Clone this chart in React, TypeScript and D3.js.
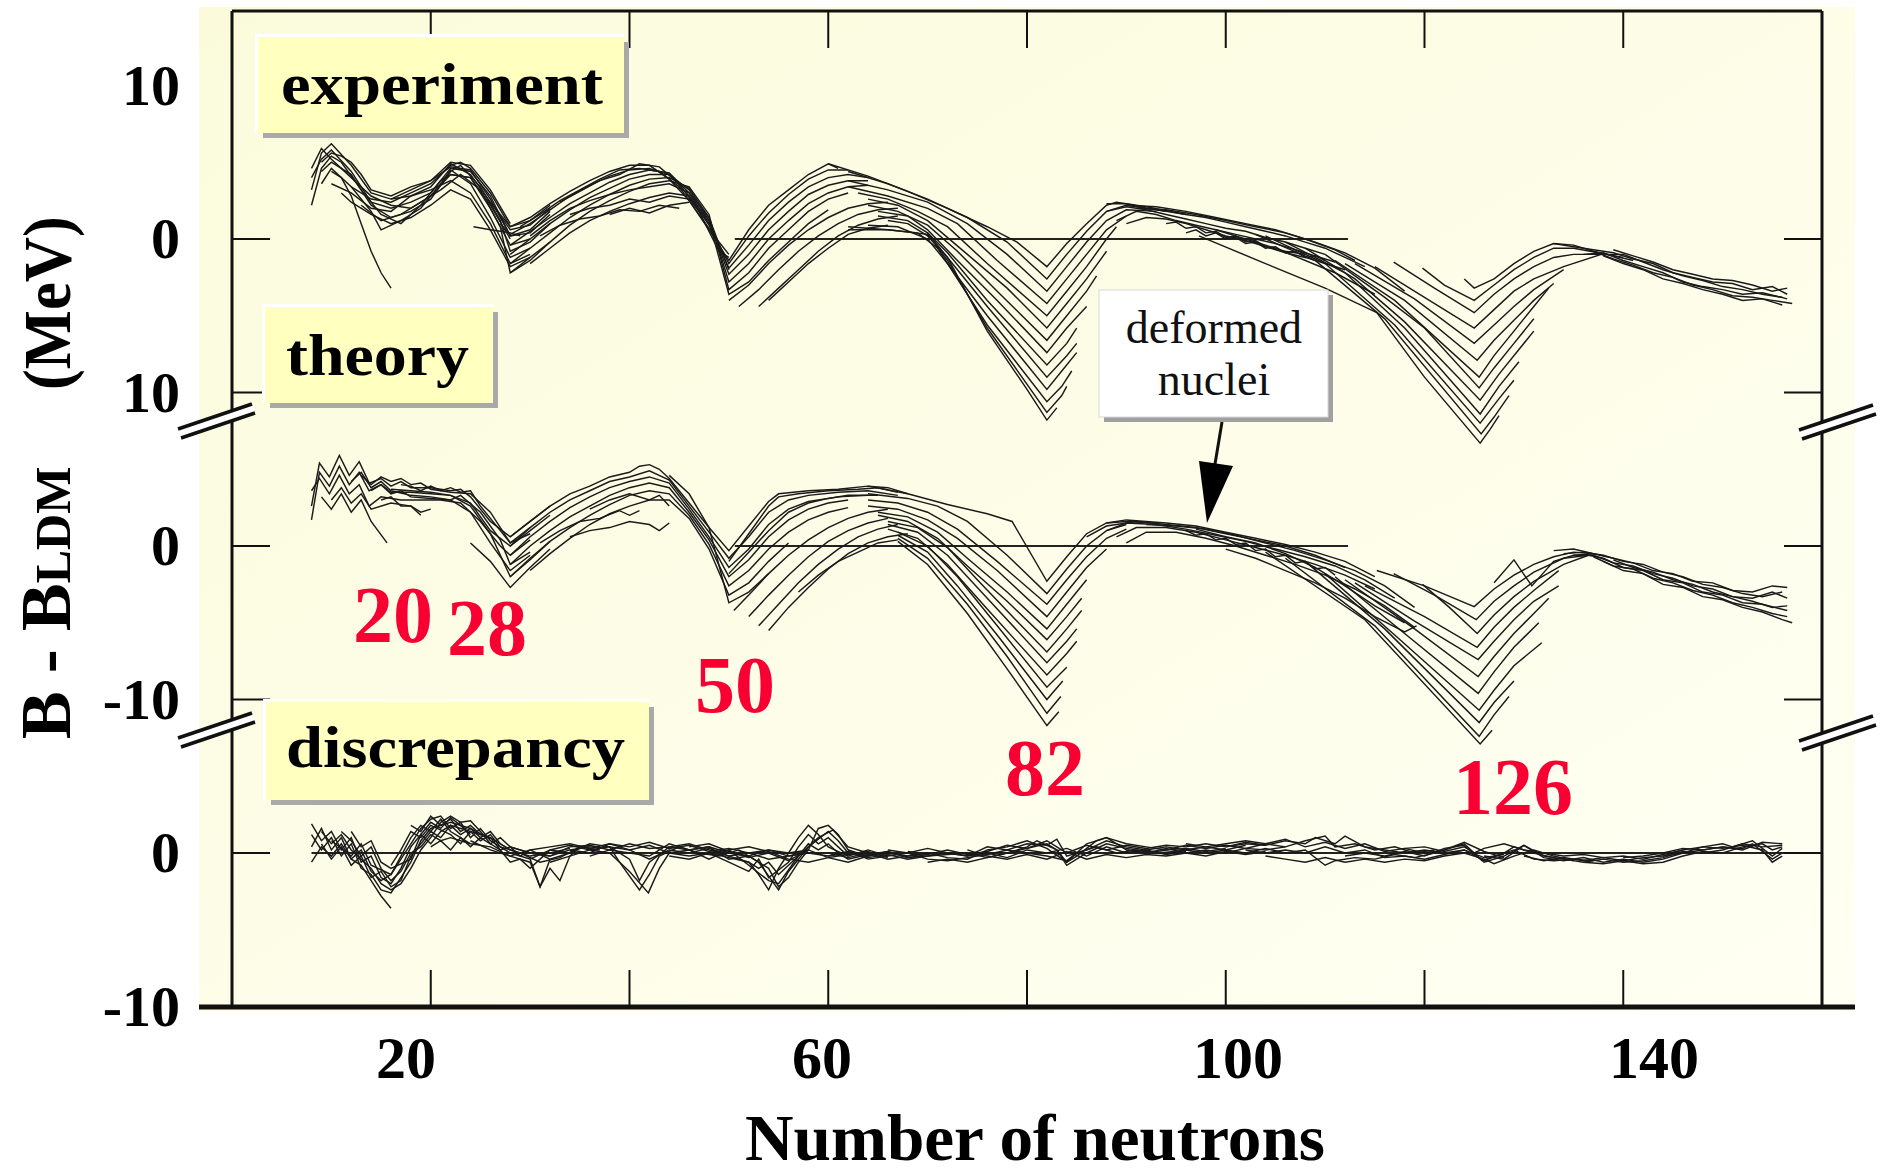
import React, { useEffect } from 'react';
import * as d3 from 'd3';

// Neutron-number axis
const neutronTicks = [20, 40, 60, 80, 100, 120, 140];
const neutronTickLabels = [20, 60, 100, 140];

// Magic numbers annotated in red
const magicNumbers = ['20', '28', '50', '82', '126'];

// Each chain is a flat list: N, B-B_LDM (MeV), N, B-B_LDM, ...
// ---------- experiment ----------
const expLight: number[][] = [
  [8, 3.2, 9, 5.6, 10, 6.2, 12, 4.8, 14, 3.0, 16, 2.6, 18, 2.8, 20, 3.4, 22, 4.9, 24, 4.2, 26, 2.4, 28, 0.6, 30, 0.9, 32, 2.0],
  [8, 4.0, 9, 5.2, 10, 5.8, 12, 4.4, 14, 2.4, 16, 2.0, 18, 2.4, 20, 3.0, 22, 4.6, 24, 4.4, 26, 2.8, 28, 0.2, 30, 0.4, 32, 1.6],
  [8, 2.2, 9, 4.6, 10, 5.4, 11, 5.0, 13, 3.2, 15, 1.6, 17, 1.0, 19, 2.2, 21, 3.8, 22, 4.2, 24, 4.0, 26, 2.0, 28, -0.4, 30, 0.0],
  [9, 4.4, 10, 5.0, 12, 4.2, 14, 2.2, 16, 1.4, 18, 1.8, 20, 2.6, 22, 4.4, 23, 4.8, 25, 3.4, 27, 1.2, 28, -0.8, 30, -0.2, 32, 1.0],
  [9, 3.6, 10, 4.6, 12, 3.4, 14, 1.8, 15, 0.6, 17, 1.2, 19, 2.0, 21, 3.6, 22, 4.5, 24, 3.6, 26, 1.4, 28, -1.2, 30, -0.6],
  [10, 4.4, 11, 4.0, 12, 2.8, 13, 1.0, 14, -0.8, 15, -2.2, 16, -3.2],
  [10, 3.6, 12, 3.0, 14, 2.0, 16, 1.8, 18, 2.8, 20, 3.2, 22, 3.8, 24, 3.0, 26, 1.0, 28, -1.6, 30, -1.0],
  [12, 3.4, 14, 2.6, 16, 2.4, 18, 3.0, 20, 3.6, 22, 4.8, 23, 5.0, 24, 4.6, 26, 3.0, 28, 0.8, 30, 1.2, 32, 2.2],
  [13, 2.2, 15, 1.2, 17, 1.6, 19, 2.4, 21, 3.2, 23, 4.2, 25, 3.2, 27, 0.8, 28, -2.2, 30, -1.4, 32, -0.2],
  [16, 2.6, 18, 3.2, 20, 3.8, 22, 4.7, 24, 4.5, 26, 2.6, 28, 0.2, 30, 0.6, 32, 1.8],
  [24.3, 0.8, 26, 0.6, 28, 0.4, 29, 0.2],
  [8, 4.6, 9, 5.9, 10, 5.2, 11, 4.6, 12, 4.0, 14, 2.8, 16, 2.2, 18, 2.0, 20, 2.8, 22, 4.2, 24, 4.0, 26, 2.2, 28, 0.0],
  [9, 5.0, 10, 5.6, 11, 5.4, 12, 5.0, 13, 4.2, 14, 3.2, 16, 2.8, 18, 3.4, 20, 3.8, 21, 4.4, 22, 5.0, 24, 4.8, 26, 3.2, 28, 1.0],
  [11, 3.0, 12, 2.4, 14, 1.6, 16, 1.0, 18, 1.4, 20, 2.2, 22, 3.2, 24, 2.6, 26, 0.6, 28, -1.8, 30, -1.2],
];

const expMid: number[][] = [
  [26, 2.4, 28, 0.8, 30, 1.4, 32, 2.3, 34, 3.1, 36, 3.8, 38, 4.4, 40, 4.8, 42, 4.8, 44, 3.9, 46, 2.5, 48, 0.6, 50, -1.4, 52, 0.6, 54, 2.2, 56, 3.2, 58, 4.2, 60, 4.9, 61, 4.6],
  [27, 1.0, 28, 0.3, 30, 1.0, 32, 1.9, 34, 2.8, 36, 3.5, 38, 4.1, 40, 4.5, 42, 4.6, 44, 4.2, 46, 2.8, 48, 0.9, 50, -1.6, 52, 0.2, 54, 1.7, 56, 2.9, 58, 3.9, 60, 4.5, 62, 4.5],
  [28, -0.4, 30, 0.5, 32, 1.4, 34, 2.3, 36, 3.0, 38, 3.7, 40, 4.2, 42, 4.5, 44, 4.3, 46, 3.0, 48, 1.0, 50, -1.9, 52, -0.4, 54, 1.2, 56, 2.4, 58, 3.4, 60, 4.0, 62, 4.2, 64, 4.0],
  [28, -1.0, 30, 0.0, 32, 1.0, 34, 1.9, 36, 2.7, 38, 3.3, 40, 3.9, 42, 4.2, 44, 4.2, 46, 3.2, 48, 1.2, 50, -2.3, 52, -1.0, 54, 0.6, 56, 1.8, 58, 2.9, 60, 3.5, 62, 3.8, 64, 3.8],
  [28, -1.6, 30, -0.6, 32, 0.4, 34, 1.4, 36, 2.2, 38, 2.9, 40, 3.5, 42, 3.9, 44, 4.0, 46, 3.3, 48, 1.4, 50, -2.8, 52, -1.6, 54, 0.0, 56, 1.2, 58, 2.3, 60, 3.0, 62, 3.4, 64, 3.5],
  [28, -2.2, 30, -1.2, 32, -0.2, 34, 0.9, 36, 1.8, 38, 2.5, 40, 3.1, 42, 3.6, 44, 3.8, 46, 3.4, 48, 1.6, 50, -3.3, 52, -2.2, 54, -0.6, 56, 0.6, 58, 1.8, 60, 2.6, 62, 3.0],
  [30, -1.6, 32, -0.6, 34, 0.4, 36, 1.2, 38, 1.8, 40, 2.3, 42, 2.7, 44, 3.0, 46, 2.8, 48, 1.2, 50, -3.6, 52, -2.8, 54, -1.4, 56, -0.2, 58, 1.0, 60, 1.9],
  [31, 0.2, 33, 0.9, 35, 1.3, 37, 1.5, 39, 1.9, 41, 1.8, 43, 2.2, 45, 2.0],
  [38, 1.6, 40, 2.0, 42, 1.7, 44, 2.2, 46, 2.4],
  [33, 2.4, 35, 3.1, 37, 3.8, 39, 4.2, 41, 4.9, 43, 4.7, 45, 3.6, 47, 1.8, 49, -0.8, 50, -1.2],
  [29, 0.8, 31, 1.6, 33, 2.5, 35, 3.2, 37, 3.9, 39, 4.5, 41, 4.6, 43, 4.4, 45, 3.4, 47, 1.6, 49, -0.2, 50, -1.0],
  [30, 0.2, 32, 1.2, 34, 2.0, 36, 2.5, 38, 2.9, 40, 3.2, 42, 3.4, 44, 3.6, 46, 3.0, 48, 1.4, 50, -2.0],
  [34, 1.6, 36, 2.0, 38, 2.2, 40, 2.6, 42, 2.4, 44, 2.8, 46, 2.6, 48, 1.0],
  [50, -4.0, 52, -3.0, 54, -1.6, 56, -0.4, 58, 0.6, 60, 1.4, 62, 2.0, 64, 2.3, 66, 2.4],
  [51, -4.4, 53, -3.3, 55, -2.0, 57, -0.8, 59, 0.2, 61, 1.0, 63, 1.6, 65, 1.9, 67, 2.0],
  [53, -4.4, 55, -3.2, 57, -2.0, 59, -0.8, 61, 0.2, 63, 0.9, 65, 1.3, 67, 1.5],
  [54, -4.0, 56, -2.8, 58, -1.6, 60, -0.6, 62, 0.3, 64, 0.7, 66, 0.9],
];

const expFan82: number[][] = [
  [60, 4.9, 64, 4.1, 68, 3.1, 72, 2.0, 76, 0.8, 79, -0.2, 82, -1.8, 84, -0.3, 86, 1.0, 88, 2.2, 89, 2.4, 92, 2.1, 96, 1.6],
  [62, 4.4, 66, 3.6, 70, 2.6, 74, 1.4, 78, -0.2, 82, -2.6, 84, -1.0, 86, 0.5, 88, 1.8, 90, 2.2, 94, 1.8],
  [62, 3.8, 66, 3.2, 70, 2.4, 74, 1.0, 78, -1.0, 82, -3.4, 84, -1.8, 86, -0.2, 88, 1.2, 90, 1.9, 93, 1.8],
  [62, 3.4, 66, 2.8, 70, 2.0, 73, 1.0, 77, -1.4, 82, -4.2, 84, -2.6, 86, -1.0, 88, 0.6, 90, 1.5],
  [63, 3.0, 66, 2.6, 69, 1.8, 72, 0.8, 76, -1.6, 82, -5.0, 84, -3.4, 86, -1.8, 88, 0.0, 89, 0.8],
  [64, 2.6, 67, 2.2, 70, 1.2, 74, -1.0, 78, -3.2, 82, -5.8, 84, -4.2, 86, -2.6, 88, -0.8],
  [64, 2.2, 67, 1.8, 70, 0.9, 73, -0.8, 77, -3.4, 82, -6.6, 84, -5.0, 86, -3.4, 87, -2.4],
  [65, 1.8, 68, 1.5, 70, 0.6, 73, -1.4, 77, -4.0, 82, -7.4, 84, -5.8, 86, -4.4],
  [65, 1.5, 68, 1.2, 70, 0.4, 72, -0.9, 76, -4.0, 82, -8.2, 84, -6.8, 85, -5.8],
  [66, 1.2, 68, 1.0, 70, 0.2, 72, -1.2, 76, -4.4, 82, -9.0, 84, -7.6, 85, -6.8],
  [64, 0.9, 67, 0.8, 70, 0.0, 72, -1.6, 76, -5.0, 82, -9.8, 83.5, -8.6, 85, -7.4],
  [62, 0.6, 66, 0.6, 69, 0.4, 71, -0.6, 76, -5.6, 82, -10.6, 83.5, -9.6, 84.5, -8.6],
  [62, 0.8, 66, 0.6, 70, 0.3, 72, -1.4, 76, -5.8, 82, -11.3, 83.5, -10.2, 84, -9.6],
  [70, 0.4, 72, -1.2, 76, -6.0, 80, -9.8, 82, -11.8, 83, -11.0],
];

const expDeformed: number[][] = [
  [88, 2.3, 90, 2.3, 92, 2.0, 94, 1.8, 96, 1.6, 98, 1.4, 100, 1.1, 102, 0.8, 104, 0.5, 106, 0.2, 108, -0.2, 110, -0.6, 112, -1.2, 114, -1.8],
  [88, 1.8, 90, 2.1, 92, 1.9, 94, 1.6, 96, 1.3, 98, 1.0, 100, 0.7, 102, 0.5, 104, 0.1, 106, -0.2, 108, -0.6, 110, -1.0],
  [89, 1.2, 91, 1.8, 93, 1.6, 95, 1.2, 97, 0.9, 99, 0.6, 101, 0.3, 103, 0.0, 105, -0.3, 107, -0.7, 109, -1.1, 111, -1.5],
  [90, 1.0, 92, 1.4, 94, 1.3, 96, 1.0, 98, 0.6, 100, 0.2, 102, -0.1, 104, -0.5, 106, -0.9, 108, -1.2, 110, -1.6, 112, -2.0],
  [96, 0.4, 97, 0.6, 98, 0.2, 99, 0.4, 100, 0.0, 101, 0.1, 102, -0.3, 103, -0.2, 104, -0.6, 105, -0.5, 106, -0.9, 107, -0.8, 108, -1.2, 109, -1.1, 110, -1.4],
  [94, 1.0, 95, 1.1, 96, 0.7, 97, 0.8, 98, 0.4, 99, 0.5, 100, 0.1, 101, 0.2, 102, -0.2, 103, -0.1, 104, -0.5, 106, -0.8, 108, -1.0],
  [91, 2.0, 94, 1.9, 97, 1.6, 100, 1.2, 103, 0.8, 106, 0.4, 109, -0.2, 112, -0.9, 115, -1.9, 118, -3.4],
  [90, 2.2, 93, 2.1, 96, 1.8, 99, 1.4, 102, 1.0, 105, 0.6, 108, 0.0, 111, -0.7, 113, -1.4],
  [97.3, 0.2, 104, -1.6, 110, -3.2, 115.2, -4.8],
  [99, 0.6, 105, -0.6, 111, -2.2, 115, -3.6],
];

const expFan126: number[][] = [
  [124, -2.6, 125, -3.2, 127, -2.6, 129, -1.6, 131, -0.8, 133, -0.3, 135, -0.4, 137, -0.8, 139, -1.1, 141, -1.4],
  [119.8, -1.9, 122, -3.0, 125, -4.0, 127, -3.0, 129, -2.0, 131, -1.2, 133, -0.6, 135, -0.6, 137.5, -0.9, 140, -1.2],
  [116.9, -1.5, 121, -3.2, 125, -4.8, 127, -3.6, 129, -2.6, 131, -1.8, 133, -1.2, 135, -1.0, 137.8, -1.0],
  [115, -1.8, 120, -3.8, 125, -5.8, 127, -4.6, 129, -3.4, 131, -2.6, 134, -1.8, 137.8, -1.0],
  [113, -1.6, 119, -3.9, 125, -6.8, 127, -5.6, 129, -4.4, 131, -3.3, 134, -2.0],
  [112, -1.6, 118, -4.0, 125.3, -7.9, 127, -6.6, 129, -5.3, 131, -4.0, 133, -2.9],
  [111, -1.4, 117, -4.0, 125.5, -9.0, 127, -7.6, 129, -6.0, 131, -4.4, 132.5, -3.2],
  [110, -1.0, 116, -3.8, 120, -5.8, 125.5, -9.7, 127, -8.4, 129, -6.8, 131, -5.2],
  [108, -0.6, 113, -2.6, 118, -5.4, 125.6, -10.5, 127.5, -8.8, 129.5, -7.2, 131, -6.0],
  [106, -0.2, 112, -2.2, 118, -5.8, 125.6, -11.4, 127.5, -9.6, 129.5, -8.0],
  [104, 0.2, 110, -1.6, 117, -5.6, 125.6, -12.0, 127.5, -10.4, 129, -9.2],
  [103, 0.3, 109, -1.4, 116, -5.2, 125.7, -12.7, 127, -11.6, 128.5, -10.2],
  [115.2, -4.8, 120, -9.0, 125.6, -13.3, 126.6, -12.4, 127.5, -11.5],
];

const expHeavy: number[][] = [
  [133, -0.3, 135, -0.5, 137, -0.7, 139, -0.9, 141, -1.3, 143, -1.6, 145, -2.2, 147, -2.5, 149, -2.8, 151, -2.9, 153, -3.3, 155, -3.1, 156.5, -3.6],
  [136, -1.0, 138, -0.9, 140, -1.4, 142, -1.8, 144, -2.2, 146, -2.8, 148, -3.1, 150, -3.3, 152, -3.6, 154, -3.5, 156.5, -3.9],
  [137, -0.8, 139, -1.3, 141, -1.7, 143, -2.2, 145, -2.5, 147, -3.0, 149, -3.3, 151, -3.7, 153, -3.8, 155, -4.0, 157, -4.2],
  [137.8, -1.0, 140, -1.0, 142, -1.5, 144, -2.0, 146, -2.4, 148, -2.7, 150, -3.1, 152, -3.3, 154, -3.6, 156, -3.8],
  [138, -1.1, 140, -1.6, 142, -2.0, 144, -2.6, 146, -2.9, 148, -3.3, 150, -3.6, 152, -4.0, 154, -3.9, 156, -4.3],
  [139, -0.7, 141, -1.1, 143, -1.5, 145, -2.0, 147, -2.3, 149, -2.6, 151, -2.7, 153, -3.0, 155, -3.4, 156.5, -3.2],
];

// ---------- theory ----------
const thLight: number[][] = [
  [8, 2.6, 8.8, 5.4, 9.8, 4.5, 10.8, 5.9, 11.8, 4.6, 12.8, 5.5, 13.8, 4.1, 15, 4.4, 16, 3.9, 17, 4.2, 18, 3.8, 20, 3.8, 22, 3.6, 23, 3.7, 24, 3.2, 26, 1.6, 28, 0.6, 30, 1.6, 32, 2.6],
  [8, 1.7, 8.8, 4.8, 9.8, 3.9, 10.8, 5.2, 11.8, 4.0, 12.8, 4.8, 13.8, 3.6, 15, 4.0, 16, 3.5, 18, 3.5, 20, 3.4, 22, 3.3, 24, 2.8, 26, 1.0, 28, 0.0, 30, 1.0, 32, 2.0],
  [8, 3.6, 8.8, 4.4, 9.8, 3.4, 10.8, 4.6, 11.8, 3.4, 12.8, 4.0, 13.8, 2.6, 15, 3.2, 17, 3.0, 19, 3.0, 21, 3.0, 23, 2.8, 25, 1.6, 27, 0.0, 28, -0.6, 30, 0.4],
  [9, 3.2, 10, 2.4, 11, 3.4, 12, 2.2, 13, 3.0, 14, 1.6, 15.6, 0.2],
  [10, 3.0, 11, 3.8, 12, 2.8, 13, 3.4, 14, 2.4, 16, 2.8, 18, 2.6, 19, 2.0],
  [13, 4.6, 14, 4.0, 15, 4.5, 16, 4.2, 17, 4.4, 18, 4.0, 19, 4.1, 20, 3.7, 22, 3.5, 24, 3.4, 26, 2.2, 28, 0.2, 30, 0.8],
  [14, 3.6, 15, 4.0, 16, 3.4, 17, 3.6, 18, 3.2, 20, 3.1, 22, 3.0, 23, 3.3, 25, 2.2, 27, 0.4, 28, -1.2, 30, -0.4],
  [15, 3.0, 16, 3.2, 17, 2.6, 18, 2.6, 19, 2.2, 20, 2.4],
  [24, 0.2, 26, -1.0, 28, -2.7, 30, -1.4, 32, -0.2],
  [16, 3.7, 18, 3.6, 20, 3.5, 22, 3.3, 24, 2.6, 26, 0.8, 28, -2.0, 30, -0.9, 32, 0.3],
  [12, 4.2, 13, 4.8, 14, 3.8, 15, 4.2, 16, 3.6, 18, 3.3, 20, 3.2, 22, 3.0, 24, 2.2, 26, 0.2, 28, -1.6, 30, -0.6],
  [17, 4.0, 18, 3.9, 19, 3.6, 20, 3.9, 21, 3.6, 22, 3.8, 23, 3.5, 24, 3.6, 25, 2.6, 27, 1.0, 28, 0.2, 30, 1.2],
];

const thMid: number[][] = [
  [28, 0.6, 30, 1.6, 32, 2.6, 34, 3.4, 36, 3.9, 38, 4.5, 40, 4.8, 41, 5.2, 42, 5.3, 43, 5.0, 44, 4.4, 46, 2.8, 48, 1.2, 50, -0.3, 52, 1.3, 54, 2.9, 55, 3.4, 58, 3.6, 61, 3.7, 64, 3.9, 66, 3.8, 68, 3.4],
  [28, 0.0, 30, 1.2, 32, 2.2, 34, 3.0, 36, 3.6, 38, 4.2, 40, 4.5, 42, 4.9, 44, 4.3, 46, 2.6, 48, 0.9, 50, -0.8, 52, 0.6, 54, 2.2, 56, 3.0, 58, 3.3, 61, 3.5, 64, 3.6, 67, 3.3],
  [28, -0.6, 30, 0.6, 32, 1.6, 34, 2.5, 36, 3.2, 38, 3.8, 40, 4.2, 42, 4.5, 44, 4.1, 46, 2.4, 48, 0.6, 50, -1.4, 52, -0.2, 54, 1.4, 56, 2.4, 58, 2.9, 61, 3.2, 64, 3.3],
  [28, -1.2, 30, 0.0, 32, 1.0, 34, 1.9, 36, 2.6, 38, 3.3, 40, 3.8, 42, 4.1, 44, 3.8, 46, 2.2, 48, 0.4, 50, -2.0, 52, -0.9, 54, 0.6, 56, 1.7, 58, 2.4, 60, 2.8, 62, 3.0],
  [28, -2.0, 30, -0.8, 32, 0.3, 34, 1.2, 36, 2.0, 38, 2.7, 40, 3.3, 42, 3.6, 44, 3.4, 46, 2.0, 48, 0.1, 50, -2.6, 52, -1.6, 54, -0.2, 56, 0.9, 58, 1.7, 60, 2.2, 62, 2.5],
  [30, -1.6, 32, -0.5, 34, 0.5, 36, 1.4, 38, 2.1, 40, 2.6, 42, 3.0, 44, 3.0, 46, 1.8, 48, -0.2, 50, -3.2, 52, -2.4, 54, -1.0, 56, 0.2],
  [31, 0.2, 33, 1.0, 35, 1.6, 37, 1.8, 39, 2.3, 40, 2.0, 41, 2.3],
  [34, 0.6, 36, 1.0, 38, 1.2, 40, 1.6, 42, 1.4, 43, 1.0, 44, 1.5],
  [44, 4.6, 46, 3.4, 48, 1.2, 50, -3.7, 52, -3.0, 54, -1.8],
  [36, 2.4, 38, 3.0, 40, 3.4, 42, 3.0, 43, 3.3, 44, 2.6],
  [50, -1.0, 52, 0.8, 54, 2.6, 55, 3.2, 57, 3.4, 60, 3.6, 63, 3.7, 65, 3.8, 67, 3.5],
  [50, -1.8, 52, -0.4, 54, 1.0, 56, 2.2, 58, 2.8, 60, 3.1, 62, 3.3, 65, 3.3],
  [50.5, -4.2, 52, -3.2, 54, -1.8, 56, -0.6, 58, 0.4, 60, 1.2, 62, 1.8, 64, 2.2, 66, 2.4],
  [52, -4.6, 54, -3.2, 56, -1.9, 58, -0.7, 60, 0.3, 62, 1.0, 64, 1.5, 66, 1.8],
  [53, -5.2, 55, -3.8, 57, -2.4, 59, -1.2, 61, -0.2, 63, 0.6, 65, 1.1, 67, 1.4],
  [54, -5.5, 56, -4.0, 58, -2.7, 60, -1.5, 62, -0.5, 64, 0.2, 66, 0.6, 68, 0.8],
  [57, -3.0, 59, -1.9, 61, -1.0, 63, -0.4, 65, 0.2, 67, 0.4],
];

const thFan82: number[][] = [
  [64, 3.9, 68, 3.4, 72, 2.7, 76, 2.1, 78.5, 1.6, 82, -2.3, 84, -0.7, 86, 0.8, 88, 1.5, 90, 1.6, 93, 1.5],
  [64, 3.4, 68, 3.1, 71, 2.6, 74, 1.6, 78, -0.6, 82, -3.1, 84, -1.5, 86, 0.0, 88, 1.0, 90, 1.4],
  [64, 3.0, 67, 2.8, 70, 2.2, 73, 1.1, 77, -1.0, 82, -3.8, 84, -2.2, 86, -0.7, 88, 0.5, 90, 1.1],
  [64, 2.6, 67, 2.4, 70, 1.7, 73, 0.5, 77, -1.6, 82, -4.6, 84, -3.0, 86, -1.4, 88, -0.2],
  [65, 2.2, 68, 1.9, 71, 0.9, 74, -0.8, 78, -3.0, 82, -5.4, 84, -3.8, 86, -2.2],
  [65, 2.0, 68, 1.6, 71, 0.5, 74, -1.3, 78, -3.6, 82, -6.1, 84, -4.6, 85.5, -3.4],
  [66, 1.6, 69, 1.2, 72, -0.1, 75, -2.2, 79, -4.9, 82, -6.9, 84, -5.4, 85.5, -4.2],
  [66, 1.4, 69, 0.9, 72, -0.6, 76, -3.4, 82, -7.6, 84, -6.2, 85, -5.4],
  [66, 1.1, 69, 0.5, 72, -1.2, 76, -4.1, 82, -8.4, 84, -7.0, 85, -6.2],
  [67, 0.9, 70, 0.0, 73, -2.0, 77, -5.2, 82, -9.2, 84, -7.9],
  [67, 0.7, 70, -0.4, 73, -2.6, 77, -5.8, 82, -10.0, 83.6, -8.8],
  [67, 0.5, 70, -0.8, 74, -3.8, 78, -7.2, 82, -10.9, 83.4, -9.8],
  [67, 0.3, 70, -1.2, 74, -4.4, 78, -8.0, 82, -11.7, 83.2, -10.8],
];

const thDeformed: number[][] = [
  [88, 1.5, 90, 1.7, 92, 1.6, 94, 1.5, 97, 1.3, 100, 0.9, 103, 0.5, 106, 0.1, 109, -0.4, 112, -1.0, 115, -2.0],
  [88, 1.0, 90, 1.5, 93, 1.4, 96, 1.1, 99, 0.7, 102, 0.3, 105, -0.2, 108, -0.7, 111, -1.3, 114, -2.2, 117, -3.4],
  [89, 0.6, 91, 1.2, 94, 1.2, 97, 0.9, 100, 0.4, 103, -0.1, 106, -0.6, 109, -1.2, 112, -1.9, 115, -2.8],
  [90, 0.2, 92, 0.9, 95, 0.9, 98, 0.5, 101, 0.0, 104, -0.6, 107, -1.2, 110, -1.9, 113, -2.8, 116, -3.9, 119, -5.3],
  [96, 1.0, 97, 0.7, 98, 0.8, 99, 0.4, 100, 0.5, 101, 0.1, 102, 0.2, 103, -0.3, 104, -0.2, 105, -0.7, 106, -0.6, 107, -1.1, 108, -1.0, 109, -1.5, 110, -1.4, 111, -1.9],
  [92, 1.4, 95, 1.3, 98, 1.1, 101, 0.7, 104, 0.2, 107, -0.3, 110, -0.9, 113, -1.6, 116, -2.6, 119, -4.0],
  [97, 1.1, 100, 0.6, 103, 0.2, 106, -0.5, 109, -1.4, 112, -2.6, 115, -3.9, 118, -5.0],
  [100, -0.2, 103, -0.8, 106, -1.6, 109, -2.4, 112, -3.4, 115, -4.6, 118, -5.6, 119.2, -5.2],
  [86, 0.6, 88, 1.3, 91, 1.6, 94, 1.4, 97, 1.2, 100, 0.8, 103, 0.4, 106, 0.0, 109, -0.6, 112, -1.4],
];

const thFan126: number[][] = [
  [127, -2.4, 129, -0.9, 130.8, -2.6, 133, -1.0, 135, -0.6, 137, -0.5],
  [115.2, -1.6, 120, -2.6, 125, -3.95, 127, -2.8, 129, -1.9, 131, -1.2, 133, -0.7, 135, -0.4, 137, -0.5],
  [116.9, -1.8, 121, -3.2, 125.2, -4.8, 127, -3.6, 129, -2.6, 131, -1.7, 134, -0.8, 136.5, -0.6],
  [119.8, -2.5, 122.5, -4.0, 125.3, -5.7, 127, -4.5, 129, -3.3, 131, -2.3, 134, -1.2, 136.5, -0.6],
  [114, -2.6, 120, -4.6, 125.3, -6.6, 127, -5.3, 129, -4.0, 131, -2.9, 133.5, -1.6],
  [113, -2.4, 119, -4.9, 125.4, -7.4, 127, -6.2, 129, -4.8, 131, -3.6, 133.5, -2.6],
  [112, -2.2, 119, -5.4, 125.4, -8.5, 127, -7.2, 129, -5.7, 131, -4.4, 132.5, -3.4],
  [111, -2.0, 118, -5.7, 125.4, -9.6, 127, -8.2, 129, -6.6, 131.5, -5.0],
  [110, -1.8, 117, -5.8, 125.5, -10.7, 127, -9.4, 129, -7.8, 131.8, -6.3],
  [108, -1.0, 116, -5.4, 125.5, -11.5, 127, -10.2, 129, -8.8],
  [106, -0.8, 115, -5.2, 125.5, -12.4, 127, -11.0, 128.5, -9.8],
  [104, -0.4, 114, -4.8, 125.6, -12.9, 126.8, -12.0],
];

const thHeavy: number[][] = [
  [133, -0.3, 135, -0.2, 137, -0.5, 139, -0.8, 141, -1.1, 143, -1.6, 145, -1.8, 147, -2.3, 149, -2.4, 151, -2.9, 153, -3.0, 155, -2.6, 156.5, -2.7],
  [135, -0.6, 137, -0.6, 139, -1.1, 141, -1.3, 143, -1.8, 145, -2.1, 147, -2.6, 149, -2.8, 151, -3.3, 153, -3.4, 155, -3.0, 156.5, -3.4],
  [136.5, -0.6, 138, -0.8, 140, -1.4, 142, -1.6, 144, -2.2, 146, -2.4, 148, -3.0, 150, -3.2, 152, -3.7, 154, -3.8, 156.5, -4.2],
  [137, -0.7, 139, -1.3, 141, -1.5, 143, -2.1, 145, -2.4, 147, -2.9, 149, -3.2, 151, -3.7, 153, -4.0, 155, -4.4, 156.5, -4.6],
  [138, -1.0, 140, -1.6, 142, -1.8, 144, -2.5, 146, -2.7, 148, -3.3, 150, -3.5, 152, -4.0, 154, -4.3, 156, -4.8, 157, -5.0],
  [139, -0.9, 141, -1.4, 143, -1.7, 145, -2.2, 147, -2.5, 149, -3.0, 151, -3.3, 153, -3.6, 155, -4.0, 156.5, -3.9],
  [134, -0.5, 136, -0.4, 138, -0.6, 140, -1.0, 142, -1.2, 144, -1.7, 146, -2.0, 148, -2.5, 150, -2.7, 152, -3.1, 154, -3.3, 156, -3.0],
];

// ---------- discrepancy (experiment - theory) ----------
const discLight: number[][] = [
  [8, 1.9, 9, 0.8, 10, 1.4, 11, 0.2, 12, 1.0, 13, -0.6, 14, -0.2, 15, -1.6, 16, -2.0, 17, -1.0, 18, 0.4, 19, 1.2, 20, 2.0, 21, 1.6, 22, 2.3, 23, 1.8, 24, 1.2],
  [8, 1.2, 9, 0.2, 10, 1.0, 11, -0.2, 12, 0.6, 13, -1.0, 14, -1.4, 15, -2.4, 16, -2.6, 17, -1.6, 18, -0.6, 19, 0.8, 20, 1.6, 22, 2.0, 24, 1.6, 26, 0.9],
  [8, -0.6, 9, 0.4, 10, -0.2, 11, 0.6, 12, -0.4, 13, -0.8, 14, -1.8, 15, -2.8, 16, -3.6],
  [9, 1.4, 10, 0.6, 11, 1.2, 12, 0.2, 14, -1.0, 15, -2.0, 16, -2.4, 17, -2.0, 18, -1.0, 19, 0.2, 20, 1.0, 21, 2.0, 22, 2.4, 23, 2.0, 24, 2.1, 25, 1.4, 26, 0.6, 27, 0.2, 28, 0.4, 29, -0.2, 30, 0.2],
  [10, 0.8, 12, -0.2, 13, 0.6, 14, -0.8, 16, -1.4, 17, -0.4, 18, 0.6, 19, 1.6, 20, 2.2, 21, 2.4, 22, 1.6, 23, 2.0, 24, 1.0, 25, 1.6, 26, 0.8, 28, 0.0, 30, -0.4, 31, -2.2, 32, -0.4],
  [12, 1.4, 13, 0.4, 14, 0.8, 15, -0.6, 16, -1.0, 18, -0.4, 19, 1.2, 20, 0.6, 21, 1.4, 22, 1.8, 24, 1.4, 26, 1.0, 28, 0.2, 30, -0.2, 32, 0.0, 34, 0.3],
  [16, -0.8, 17, 0.2, 18, 1.4, 19, 1.0, 20, 1.8, 22, 1.2, 23, 0.6, 24, 1.4, 25, 0.8, 26, 1.2, 27, 0.4, 29, 0.0, 31, -0.6, 33, -0.3, 35, 0.4, 37, 0.4],
  [24, 0.8, 26, 0.2, 28, -0.2, 30, -0.6, 31, -2.2, 32, -1.0, 33, -1.8, 34, -0.2, 35, 0.4, 37, 0.2],
  [8, 0.4, 9, 1.6, 10, 0.2, 11, 1.0, 12, -0.4, 13, 0.2, 14, -1.2, 15, -1.8, 16, -1.4, 17, -0.2, 18, 1.0, 19, 1.8, 20, 1.4, 21, 2.2, 22, 1.4, 23, 1.0, 24, 0.6],
  [9, 0.6, 10, -0.4, 11, 0.4, 12, -0.8, 13, -0.2, 14, -1.6, 15, -1.2, 16, -2.2, 17, -1.8, 18, -0.2, 19, 0.6, 20, 1.4, 21, 1.0, 22, 1.8, 23, 1.2, 24, 1.6, 25, 1.0, 26, 1.4, 27, 0.6, 28, 0.2],
  [11, 1.4, 12, 0.8, 13, -0.2, 14, 0.4, 15, -1.0, 16, -1.8, 17, -1.2, 18, 0.0, 19, 0.4, 20, 1.2, 21, 0.8, 22, 1.0, 24, 0.6, 26, 0.4, 28, -0.2, 30, 0.2, 32, -0.4, 34, 0.0],
  [18, 1.8, 19, 1.4, 20, 2.4, 21, 1.8, 22, 2.2, 23, 1.4, 24, 1.8, 25, 1.2, 26, 1.0, 27, 0.2, 28, -0.6, 29, -0.4, 30, -1.0, 31, -0.4, 32, 0.2],
  [20, 0.4, 21, 0.8, 22, 0.2, 23, 1.0, 24, 0.4, 25, 1.0, 26, 0.6, 27, 1.0, 28, 0.4, 30, 0.0, 32, -0.2, 34, 0.2, 36, 0.4],
];

const discMid: number[][] = [
  [28, 0.4, 30, 0.0, 32, -0.2, 34, 0.4, 36, 0.5, 38, 0.2, 40, 0.6, 42, 0.3, 44, 0.4, 46, 0.2, 48, 0.4, 50, 0.0, 52, -0.2, 54, 0.2, 56, 0.0, 58, 0.2],
  [30, -0.4, 32, 0.2, 34, 0.0, 36, 0.6, 38, 0.4, 39, -0.6, 41, -2.4, 42, -1.4, 43, -0.2, 45, 0.4, 47, 0.0, 49, -0.2, 51, 0.2, 53, -0.6, 55, -2.4, 56, -1.2, 58, 0.4, 60, 1.4, 61, 0.8, 62, 0.0],
  [32, -0.6, 34, -0.2, 36, 0.2, 38, 0.0, 40, -1.2, 41.9, -2.6, 43, -1.0, 44, 0.0, 46, 0.2, 48, -0.4, 50, 0.2, 52, -0.8, 54, -1.8, 55, -2.0, 57, -0.2, 59, 1.0, 60.5, 1.5, 62, 0.4, 64, 0.0],
  [34, 0.2, 36, 0.0, 38, 0.6, 40, 0.2, 42, -0.4, 44, 0.2, 46, 0.0, 48, 0.3, 50, -0.2, 52, 0.0, 54, -0.4, 56, -0.2, 58, 0.0, 60, -0.2, 62, 0.1, 64, -0.2],
  [44, -0.2, 46, -0.4, 48, 0.0, 50, -0.6, 52, -1.2, 53, -0.4, 54, -1.6, 56, -0.6, 57, 0.4, 58, 1.2, 59, 0.6, 60, 1.0, 62, -0.2, 64, 0.2, 66, -0.2],
  [46, 0.4, 48, 0.6, 50, 0.1, 52, -0.3, 54, 0.0, 56, -0.5, 58, 0.2, 60, -0.3, 62, -0.6, 64, -0.2, 66, 0.0, 68, -0.2, 70, 0.0],
  [30, 0.2, 32, 0.4, 34, 0.6, 36, 0.3, 38, 0.6, 40, 0.4, 42, 0.7, 44, 0.3, 46, 0.5, 48, 0.1, 50, 0.3, 52, 0.0, 54, 0.2, 56, -0.2, 58, 0.0],
  [32, 0.2, 34, 0.5, 36, 0.2, 38, 0.4, 40, -0.4, 41, -1.8, 42, -0.6, 44, 0.4, 46, 0.6, 48, 0.2, 50, -0.2, 52, -0.6, 53, -1.4, 54, -2.4, 55, -1.0, 56, 0.0, 57, 1.0, 58, 1.8, 59, 1.2, 60, 0.4, 62, -0.2],
  [36, -0.2, 38, 0.2, 40, 0.0, 42, -0.2, 44, 0.6, 46, 0.2, 48, 0.4, 50, -0.4, 52, -0.2, 54, -1.0, 55, -2.2, 56, -1.6, 57, -0.6, 58, 0.2, 59, 1.6, 60, 1.8, 61, 1.2, 62, 0.2, 64, -0.4],
  [38, 0.4, 40, 0.2, 42, 0.5, 44, 0.0, 46, -0.2, 48, 0.0, 50, 0.2, 52, 0.4, 54, 0.1, 56, -0.4, 58, -0.6, 60, -0.3, 62, -0.1, 64, 0.1, 66, -0.3],
  [48, 0.0, 50, -0.3, 52, -0.6, 53, -1.0, 54, -0.6, 55, -1.4, 56, -0.8, 57, -0.2, 58, 0.6, 59, 0.2, 60, 0.6, 61, 0.0, 62, -0.4, 64, -0.1, 66, 0.1, 68, -0.3, 70, -0.1],
];

const discHeavy: number[][] = [
  [60, 0.0, 62, -0.3, 64, 0.0, 66, -0.4, 68, -0.2, 70, 0.0, 72, -0.3, 74, -0.4, 76, 0.2, 78, 0.4, 80, 0.8, 82, 0.3, 84, -0.6, 86, 0.6, 88, 1.0, 90, 0.6, 92, 0.4, 94, 0.2, 96, 0.3, 98, 0.1, 100, 0.3],
  [62, 0.2, 64, -0.2, 66, 0.1, 68, -0.3, 70, -0.2, 72, 0.0, 74, -0.2, 76, 0.4, 78, 0.2, 80, 0.6, 82, 0.5, 83, 0.9, 84, -0.2, 86, 0.2, 88, 0.8, 90, 0.4, 92, 0.2, 94, 0.4, 96, 0.2, 98, 0.4, 100, 0.2, 102, 0.5],
  [64, -0.4, 66, -0.2, 68, 0.0, 70, -0.4, 72, -0.5, 74, -0.3, 76, -0.1, 78, 0.2, 80, 0.0, 82, -0.2, 84, -0.5, 85, 0.0, 87, 0.4, 89, 0.0, 91, 0.2, 93, 0.0, 95, 0.1, 97, 0.3],
  [66, 0.2, 68, 0.0, 70, 0.3, 72, 0.0, 74, -0.2, 76, 0.0, 78, -0.3, 80, 0.2, 82, 0.0, 84, 0.3, 86, -0.2, 88, 0.4, 90, 0.0, 92, 0.2, 94, -0.1, 96, 0.1],
  [70, -0.6, 72, -0.4, 74, -0.6, 76, -0.3, 78, 0.0, 80, 0.4, 81, 0.8, 83, 0.2, 84, -0.6, 85, -0.2, 87, 0.8, 88, 1.0, 90, 0.2, 92, 0.0, 94, 0.3, 96, 0.0, 98, 0.2, 100, 0.0, 102, 0.3, 104, 0.2, 106, 0.4],
  [90, 0.2, 92, 0.0, 94, 0.2, 96, 0.5, 98, 0.3, 100, 0.5, 102, 0.3, 104, 0.6, 106, 0.4, 108, 0.8, 110, 1.1, 111, 0.4, 113, 0.6, 115, 0.2, 117, 0.4, 119, 0.0, 121, 0.2],
  [98, 0.0, 100, 0.2, 102, 0.0, 104, 0.3, 106, 0.0, 108, 0.2, 110, -0.8, 111, -0.5, 113, -0.3, 115, -0.4, 117, -0.1, 119, -0.3, 121, 0.0, 123, 0.4, 124, 0.6, 126, -0.6, 128, -0.2, 130, 0.5, 132, -0.2, 134, -0.4],
  [100, 0.4, 102, 0.6, 104, 0.5, 106, 0.8, 108, 0.6, 109, 1.0, 111, 0.6, 112, 1.1, 114, 0.4, 116, 0.2, 118, 0.0, 120, 0.2, 122, 0.0, 124, 0.2, 126, -0.5, 128, 0.0, 129, 0.4, 131, 0.0, 133, -0.3],
  [102, 0.2, 104, 0.0, 106, 0.2, 108, 0.0, 110, 0.4, 112, 0.0, 114, 0.2, 116, -0.3, 118, -0.2, 120, -0.4, 122, -0.1, 124, 0.2, 126, -0.3, 128, -0.1],
  [112, -0.2, 114, 0.0, 116, -0.2, 118, 0.1, 120, -0.2, 122, 0.3, 124, 0.5, 125.8, -0.5, 127, -0.2, 129, 0.2, 131, -0.4, 133, -0.5, 135, -0.4, 137, -0.5],
  [126, -0.2, 128, -0.4, 130, 0.5, 132, -0.3, 134, -0.5, 136, -0.3, 138, -0.6, 140, -0.4, 142, -0.6, 144, -0.4, 146, 0.0, 148, 0.2, 150, 0.4, 152, 0.3, 153, 0.6, 155, -0.4, 156, 0.0],
  [130, -0.2, 132, -0.5, 134, -0.3, 136, -0.5, 138, -0.3, 140, -0.5, 142, -0.3, 144, -0.2, 146, 0.2, 148, 0.4, 150, 0.3, 152, 0.5, 154, 0.2, 155, -0.6, 156, -0.2],
  [134, -0.4, 136, -0.6, 138, -0.4, 140, -0.6, 142, -0.5, 144, -0.3, 146, 0.1, 148, 0.0, 150, 0.2, 152, 0.6, 154, 0.4, 156, 0.5],
  [140, -0.3, 142, -0.2, 144, 0.0, 146, 0.3, 148, 0.2, 150, 0.4, 152, 0.2, 154, 0.7, 156, 0.6],
  [60, -0.2, 62, 0.0, 64, -0.3, 66, -0.1, 68, -0.4, 70, -0.2, 72, -0.1, 74, 0.0, 76, -0.3, 78, 0.0, 80, 0.3, 82, 0.6, 83, 0.2, 84, -0.8, 86, 0.0, 88, 0.6, 90, 0.3, 92, 0.1, 94, 0.0, 96, 0.2, 98, 0.0],
  [68, 0.1, 70, -0.1, 72, 0.2, 74, -0.1, 76, 0.1, 78, 0.5, 80, 0.3, 82, 0.8, 83, 0.4, 84, 0.0, 86, 0.5, 88, 0.2, 90, 0.5, 92, 0.3, 94, 0.5, 96, 0.4, 98, 0.6, 100, 0.4, 102, 0.7, 104, 0.5],
  [74, 0.2, 76, -0.2, 78, -0.4, 80, -0.1, 82, -0.4, 84, 0.1, 86, -0.4, 88, -0.1, 90, -0.3, 92, -0.1, 94, -0.2, 96, 0.0, 98, -0.2, 100, 0.1, 102, -0.1, 104, 0.1],
  [96, 0.6, 98, 0.4, 100, 0.6, 102, 0.8, 104, 0.6, 106, 0.9, 108, 0.4, 110, 0.7, 112, 0.3, 114, 0.6, 116, 0.1, 118, 0.3, 120, 0.0, 122, 0.2, 124, 0.7, 126, 0.1, 128, -0.3],
  [104, -0.2, 106, -0.4, 108, -0.6, 110, -0.3, 112, -0.6, 114, -0.4, 116, -0.6, 118, -0.4, 120, -0.5, 122, -0.2, 124, 0.0, 126, -0.4, 127, -0.7, 129, -0.2, 131, 0.2, 133, -0.2, 135, -0.5],
  [118, 0.3, 120, 0.4, 122, 0.1, 124, 0.4, 125, 0.0, 126, 0.3, 128, 0.6, 130, 0.2, 132, 0.0, 134, -0.2, 136, -0.1, 138, -0.3, 140, -0.2, 142, -0.4, 144, -0.1, 146, 0.2],
  [136, -0.6, 138, -0.7, 140, -0.5, 142, -0.7, 144, -0.6, 146, -0.2, 148, 0.1, 150, 0.0, 152, 0.4, 154, 0.6, 155, 0.2, 156, 0.4],
  [144, -0.2, 146, 0.0, 148, 0.4, 150, 0.6, 151, 0.4, 153, 0.8, 154, 0.3, 155, -0.2, 156, 0.3],
];

// Zero reference segments (N range) per panel
const expZeroSpan = [50.6, 112.3];
const thZeroSpan = [50.6, 112.3];
const discZeroSpan = [8, 157];

// Y-axis ticks and their printed labels per panel
const expYTicks = [0, -10];
const thYTicks = [0, -10];
const discYTicks = [0];
const expYLabels: [number, string][] = [[10, '10'], [0, '0'], [-10, '10']];
const thYLabels: [number, string][] = [[0, '0'], [-10, '-10']];
const discYLabels: [number, string][] = [[0, '0'], [-10, '-10']];

const SERIF = "'Liberation Serif', 'Times New Roman', Times, serif";

function BreakMark({ cx, cy }: { cx: number; cy: number }) {
  const a1 = [cx - 37, cy + 8], b1 = [cx + 37, cy - 17];
  const a2 = [cx - 34, cy + 17], b2 = [cx + 40, cy - 8];
  return (
    <g>
      <polygon points={`${a1} ${b1} ${b2} ${a2}`} fill="#ffffff" />
      <line x1={a1[0]} y1={a1[1]} x2={b1[0]} y2={b1[1]} stroke="#111" strokeWidth={3.5} />
      <line x1={a2[0]} y1={a2[1]} x2={b2[0]} y2={b2[1]} stroke="#111" strokeWidth={3.5} />
    </g>
  );
}

function LabelBox({ x, y, w, h, fill }: { x: number; y: number; w: number; h: number; fill: string }) {
  return (
    <g>
      <rect x={x + 5} y={y + 5} width={w} height={h} fill="#a9a9a9" />
      <rect x={x - 3} y={y - 3} width={w + 3} height={h + 3} fill="#ffffff" />
      <rect x={x} y={y} width={w} height={h} fill={fill} />
    </g>
  );
}

export default function App() {
  useEffect(() => {
    document.body.style.margin = '0';
    document.body.style.overflow = 'hidden';
  }, []);

  const x = d3.scaleLinear().domain([0, 160]).range([232, 1822]);
  const mevPx = 15.35;
  const zeroYs = [239, 546, 853];
  const yScales = zeroYs.map((z) => d3.scaleLinear().domain([-10, 10]).range([z + 10 * mevPx, z - 10 * mevPx]));
  const tickLabelX = d3.scaleLinear().domain([20, 140]).range([406, 1654]);

  const panels = [
    { chains: [...expLight, ...expMid, ...expFan82, ...expDeformed, ...expFan126, ...expHeavy], zero: expZeroSpan, ticks: expYTicks, labels: expYLabels },
    { chains: [...thLight, ...thMid, ...thFan82, ...thDeformed, ...thFan126, ...thHeavy], zero: thZeroSpan, ticks: thYTicks, labels: thYLabels },
    { chains: [...discLight, ...discMid, ...discHeavy], zero: discZeroSpan, ticks: discYTicks, labels: discYLabels },
  ];

  const toPairs = (c: number[]) => d3.range(0, c.length, 2).map((i) => [c[i], c[i + 1]] as [number, number]);

  const frameL = x(0), frameR = x(160), frameT = 11, frameB = 1007;

  const magicPos: [number, number][] = [[393, 642], [487, 655], [735, 712], [1045, 795], [1513, 814]];

  return (
    <svg width={1883} height={1175} viewBox="0 0 1883 1175" style={{ position: 'absolute', left: 0, top: 0, display: 'block', background: '#fff' }} fontFamily={SERIF}>
      <defs>
        <linearGradient id="plotBg" x1="0" y1="0" x2="1" y2="1">
          <stop offset="0%" stopColor="#fbfbdc" />
          <stop offset="55%" stopColor="#fdfde9" />
          <stop offset="100%" stopColor="#fffff3" />
        </linearGradient>
      </defs>

      <rect x={199} y={7} width={1656} height={1005} fill="url(#plotBg)" />

      {/* zero reference lines */}
      {panels.map((p, i) => (
        <line key={`z${i}`} x1={x(p.zero[0])} x2={x(p.zero[1])} y1={yScales[i](0)} y2={yScales[i](0)} stroke="#222" strokeWidth={2.2} />
      ))}

      {/* isotope chains */}
      {panels.map((p, i) => {
        const line = d3.line<[number, number]>().x((d) => x(d[0])).y((d) => yScales[i](d[1]));
        return (
          <g key={`p${i}`} fill="none" stroke="#1a1a1a" strokeWidth={1.45} strokeLinejoin="miter">
            {p.chains.map((c, j) => (
              <path key={j} d={line(toPairs(c)) || ''} />
            ))}
          </g>
        );
      })}

      {/* frame */}
      <line x1={frameL} x2={frameR} y1={frameT} y2={frameT} stroke="#111" strokeWidth={3} />
      <line x1={frameL} x2={frameL} y1={frameT} y2={frameB} stroke="#111" strokeWidth={3} />
      <line x1={frameR} x2={frameR} y1={frameT} y2={frameB} stroke="#111" strokeWidth={3} />
      <line x1={199} x2={1855} y1={frameB} y2={frameB} stroke="#111" strokeWidth={5} />

      {/* x ticks */}
      {neutronTicks.map((n) => (
        <g key={`xt${n}`} stroke="#111" strokeWidth={2}>
          <line x1={x(n)} x2={x(n)} y1={frameT} y2={frameT + 37} />
          <line x1={x(n)} x2={x(n)} y1={frameB} y2={frameB - 37} />
        </g>
      ))}
      {neutronTickLabels.map((n) => (
        <text key={`xl${n}`} x={tickLabelX(n)} y={1078} textAnchor="middle" fontSize={60} fontWeight="bold" fill="#000">
          {n}
        </text>
      ))}

      {/* y ticks and labels */}
      {panels.map((p, i) => (
        <g key={`yt${i}`}>
          {p.ticks.map((v) => (
            <g key={v} stroke="#111" strokeWidth={2.2}>
              <line x1={frameL} x2={frameL + 38} y1={yScales[i](v)} y2={yScales[i](v)} />
              <line x1={frameR} x2={frameR - 38} y1={yScales[i](v)} y2={yScales[i](v)} />
            </g>
          ))}
          {p.labels.map(([v, t]) => (
            <text key={`l${v}`} x={180} y={yScales[i](v) + 19} textAnchor="end" fontSize={58} fontWeight="bold" fill="#000">
              {t}
            </text>
          ))}
        </g>
      ))}

      {/* axis breaks */}
      <BreakMark cx={215} cy={421} />
      <BreakMark cx={215} cy={730} />
      <BreakMark cx={1836} cy={422} />
      <BreakMark cx={1836} cy={733} />

      {/* panel captions */}
      <LabelBox x={258} y={37} w={366} h={96} fill="#ffffc0" />
      <text x={281} y={104} fontSize={60} fontWeight="bold" textLength={322} lengthAdjust="spacingAndGlyphs">experiment</text>
      <LabelBox x={265} y={307} w={228} h={96} fill="#ffffc0" />
      <text x={286} y={375} fontSize={60} fontWeight="bold" textLength={183} lengthAdjust="spacingAndGlyphs">theory</text>
      <LabelBox x={266} y={702} w={383} h={98} fill="#ffffc0" />
      <text x={286} y={767} fontSize={60} fontWeight="bold" textLength={339} lengthAdjust="spacingAndGlyphs">discrepancy</text>

      {/* deformed nuclei callout */}
      <rect x={1104} y={295} width={229} height={127} fill="#a0a0a0" />
      <rect x={1099} y={290} width={229} height={127} fill="#ffffff" stroke="#d8d8d8" strokeWidth={1} />
      <text x={1214} y={343} textAnchor="middle" fontSize={46} fill="#111">deformed</text>
      <text x={1214} y={395} textAnchor="middle" fontSize={46} fill="#111">nuclei</text>
      <line x1={1222} y1={422} x2={1214} y2={470} stroke="#111" strokeWidth={3} />
      <polygon points="1199,461 1233,466 1207,523" fill="#000" />

      {/* magic numbers */}
      {magicNumbers.map((m, i) => (
        <text key={m} x={magicPos[i][0]} y={magicPos[i][1]} textAnchor="middle" fontSize={80} fontWeight="bold" fill="#f90033">
          {m}
        </text>
      ))}

      {/* axis titles */}
      <text x={1035} y={1160} textAnchor="middle" fontSize={66} fontWeight="bold" textLength={580} lengthAdjust="spacingAndGlyphs">Number of neutrons</text>
      <text transform="translate(70,303) rotate(-90)" textAnchor="middle" fontSize={68} fontWeight="bold" textLength={174} lengthAdjust="spacingAndGlyphs">(MeV)</text>
      <text transform="translate(70,603) rotate(-90)" textAnchor="middle" fontWeight="bold">
        <tspan fontSize={72}>B - B</tspan>
        <tspan fontSize={50}>LDM</tspan>
      </text>
    </svg>
  );
}
